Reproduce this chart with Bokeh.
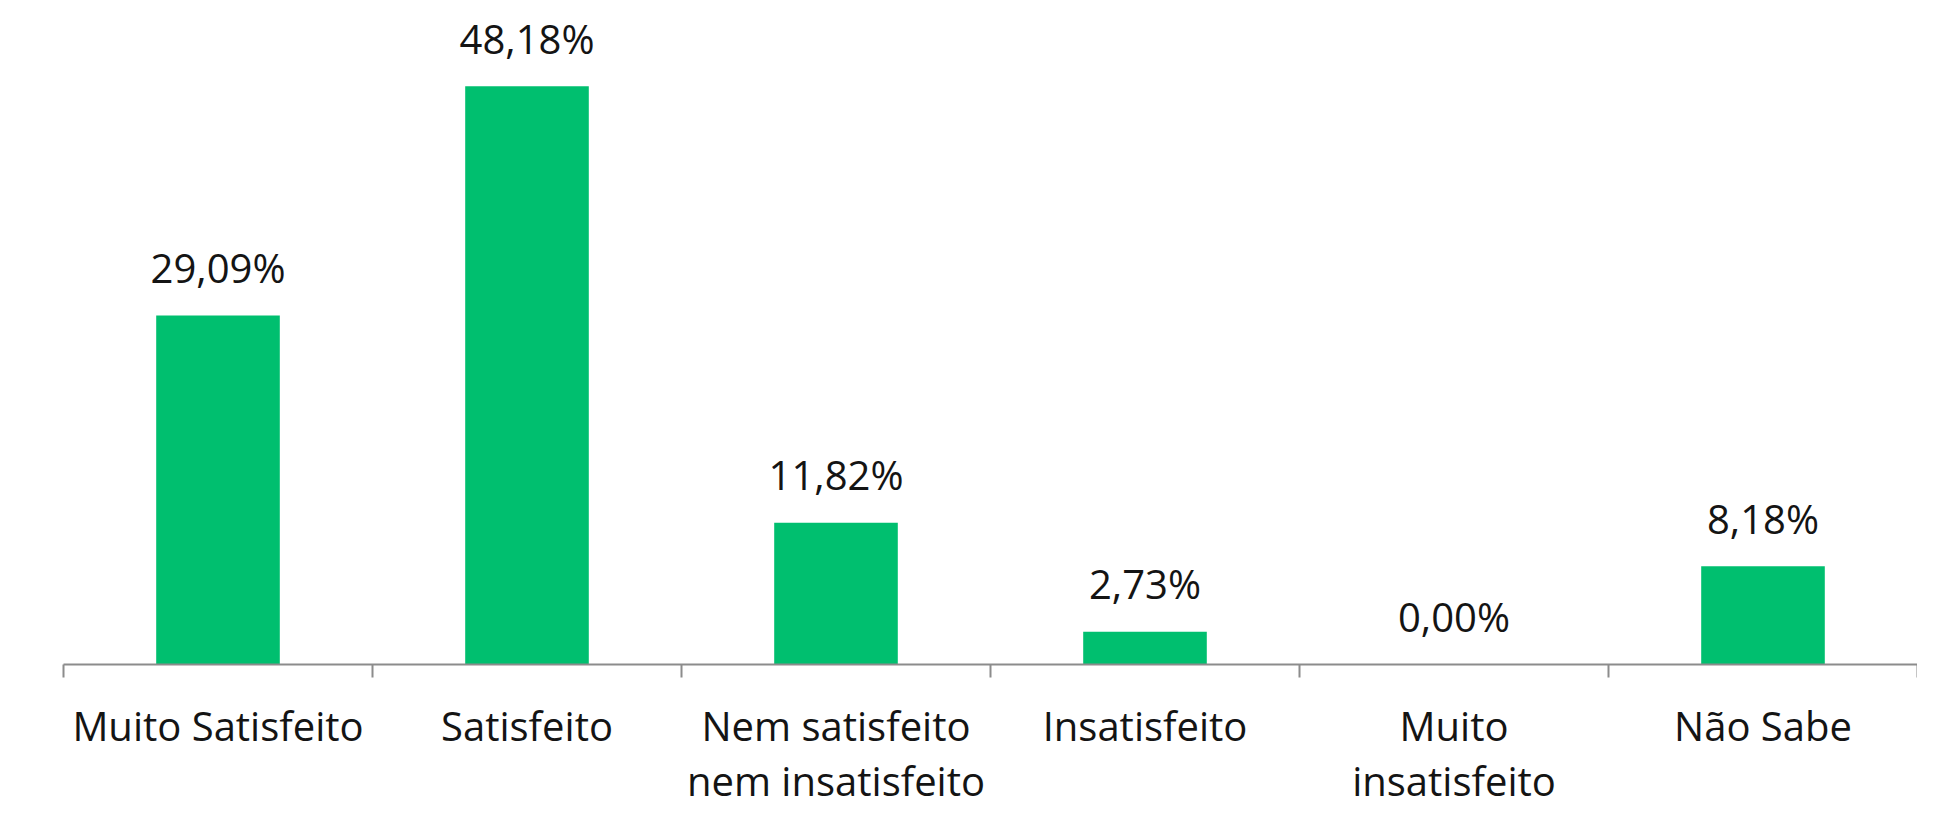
from bokeh.plotting import figure
from bokeh.models import Range1d, FixedTicker, ColumnDataSource
from bokeh.core.properties import value
from bokeh.embed import file_html
from bokeh.resources import INLINE

categories = ["Muito Satisfeito", "Satisfeito", "Nem satisfeito\nnem insatisfeito",
              "Insatisfeito", "Muito\ninsatisfeito", "Não Sabe"]
values = [29.09, 48.18, 11.82, 2.73, 0.00, 8.18]
value_labels = ["29,09%", "48,18%", "11,82%", "2,73%", "0,00%", "8,18%"]

xs = [i + 0.5 for i in range(len(categories))]
src = ColumnDataSource(dict(x=xs, top=values, lab=value_labels))

p = figure(width=1917, height=812, output_backend="svg", toolbar_location=None,
           x_range=Range1d(0, len(categories)), y_range=Range1d(0, 54.58),
           min_border_left=63, min_border_right=0, min_border_top=9, min_border_bottom=148)
p.outline_line_color = None
p.xgrid.visible = False
p.ygrid.visible = False
p.yaxis.visible = False
p.background_fill_color = "white"
p.border_fill_color = "white"

p.vbar(x="x", top="top", bottom=0, width=0.4, source=src,
       fill_color="#00BF6F", line_color=None)

p.text(x="x", y="top", text="lab", source=src, text_align="center",
       text_baseline="alphabetic", y_offset=-48,
       text_font=value("Open Sans"), text_font_size="40px", text_color="#141414")

ax = p.xaxis[0]
ax.ticker = FixedTicker(ticks=xs, minor_ticks=list(range(len(categories) + 1)))
ax.major_label_overrides = {x: c for x, c in zip(xs, categories)}
ax.major_tick_out = 0
ax.major_tick_in = 0
ax.minor_tick_out = 13
ax.minor_tick_in = 0
ax.minor_tick_line_color = "#8c8c8c"
ax.minor_tick_line_width = 2
ax.axis_line_color = "#8c8c8c"
ax.axis_line_width = 2
ax.major_label_standoff = 20
ax.major_label_text_font = "Open Sans"
ax.major_label_text_font_size = "40px"
ax.major_label_text_color = "#141414"
ax.major_label_text_line_height = 1.0

open("out.html", "w").write(file_html(p, INLINE))
